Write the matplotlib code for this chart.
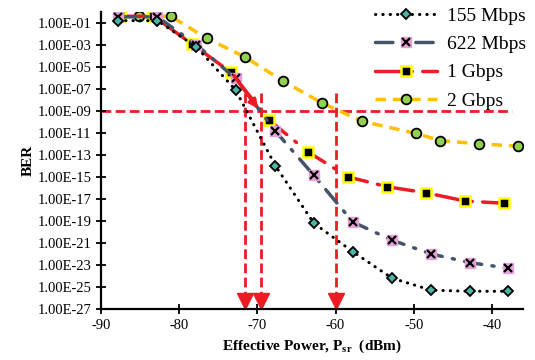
import numpy as np
import matplotlib
matplotlib.use('Agg')
import matplotlib.pyplot as plt
from matplotlib.legend_handler import HandlerTuple

plt.rcParams['font.family'] = ['Liberation Serif', 'DejaVu Serif']
plt.rcParams['axes.unicode_minus'] = False

# data (BER stored as log10 values)
x155 = [-87.8, -82.8, -77.8, -72.8, -67.7, -62.8, -57.8, -52.8, -47.8, -42.8, -37.9]
log155 = [-0.8, -0.8, -3.2, -7.1, -14.0, -19.2, -21.8, -24.2, -25.3, -25.4, -25.4]

x622 = [-87.8, -82.8, -77.8, -72.8, -67.7, -62.8, -57.8, -52.8, -47.8, -42.8, -37.9]
log622 = [-0.45, -0.45, -3.0, -6.05, -10.85, -14.85, -19.1, -20.75, -22.0, -22.8, -23.3]

x1g = [-87.6, -83.3, -78.4, -73.4, -68.5, -63.5, -58.4, -53.4, -48.4, -43.4, -38.4]
log1g = [-0.4, -0.4, -2.9, -5.5, -9.85, -12.75, -15.0, -15.9, -16.45, -17.2, -17.4]

x2g = [-85.1, -81.1, -76.5, -71.6, -66.7, -61.7, -56.6, -49.7, -46.6, -41.6, -36.7]
log2g = [-0.4, -0.4, -2.4, -4.1, -6.3, -8.3, -9.95, -11.05, -11.7, -12.0, -12.2]

ber_limit = 1e-9
sens_x = [-71.6, -69.6, -60.0]
ytick_exp = list(range(-1, -28, -2))

red = '#ED1C24'

fig, ax = plt.subplots(figsize=(5.35, 3.6), dpi=100)
fig.subplots_adjust(left=0.189, right=0.978, bottom=0.142, top=0.967)

b155 = 10.0 ** np.array(log155)
b622 = 10.0 ** np.array(log622)
b1g = 10.0 ** np.array(log1g)
b2g = 10.0 ** np.array(log2g)

# reference lines
ax.plot([-90, -37.4], [ber_limit, ber_limit], color=red, lw=2, dashes=(3.5, 1.6), zorder=1)
for xv in sens_x:
    ax.plot([xv, xv], [10 ** -7.4, 10 ** -26.0], color=red, lw=2, dashes=(3.5, 1.6), zorder=1)
    ax.plot([xv], [10 ** -26.3], marker='v', color=red, ms=11, zorder=2, clip_on=False)

l2, = ax.plot(x2g, b2g, color='#FFC000', lw=2.5, dashes=(3, 2), marker='o', ms=7,
              mfc='#92D050', mec='black', mew=1.3, zorder=3)
l1, = ax.plot(x1g, b1g, color=red, lw=2.5, dashes=(7, 3, 0.6, 3), dash_capstyle='round',
              marker='s', ms=7, mfc='black', mec='#FFFF00', mew=1.8, zorder=4)
l6, = ax.plot(x622, b622, color='#44546A', lw=2.5, dashes=(5, 3, 0.6, 3), dash_capstyle='round',
              marker='s', ms=6.5, mfc='#E6A0D8', mec='#E6A0D8', zorder=5)
l6x, = ax.plot(x622, b622, ls='none', marker='x', ms=6, mec='black', mew=1.6, zorder=6)
l5, = ax.plot(x155, b155, color='black', lw=2.2, dashes=(0.1, 2.3), dash_capstyle='round',
              marker='D', ms=5.5, mfc='#4BB6A8', mec='black', mew=1.3, zorder=7)

ax.annotate('', xy=(-69.7, ber_limit), xytext=(-73.2, 10 ** -5.6),
            arrowprops=dict(arrowstyle='-|>', color=red, lw=2.5, mutation_scale=12), zorder=8)

ax.set_yscale('log')
ax.set_xlim(-90, -36)
ax.set_ylim(1e-27, 1e0)
ax.set_yticks([10.0 ** e for e in ytick_exp])
ax.set_yticklabels(['1.00E-%02d' % -e for e in ytick_exp])
ax.yaxis.set_minor_locator(matplotlib.ticker.NullLocator())
ax.set_xticks([-90, -80, -70, -60, -50, -40])
ax.tick_params(axis='both', labelsize=10.5, direction='inout', length=7, width=1.3)

for s in ['top', 'right']:
    ax.spines[s].set_visible(False)
for s in ['left', 'bottom']:
    ax.spines[s].set_linewidth(1.6)

ax.set_xlabel('Effective Power, P$_{\\mathregular{sr}}$  (dBm)', fontsize=11, fontweight='bold', labelpad=4)
ax.set_ylabel('BER', fontsize=11, fontweight='bold', labelpad=2)

ax.legend([l5, (l6, l6x), l1, l2], ['155 Mbps', '622 Mbps', '1 Gbps', '2 Gbps'],
          handler_map={tuple: HandlerTuple(ndivide=1)},
          loc='upper right', bbox_to_anchor=(1.035, 1.055),
          frameon=False, fontsize=14, handlelength=3.2, handletextpad=0.5,
          labelspacing=0.55, borderaxespad=0.2)

fig.savefig('out.png', dpi=100)
